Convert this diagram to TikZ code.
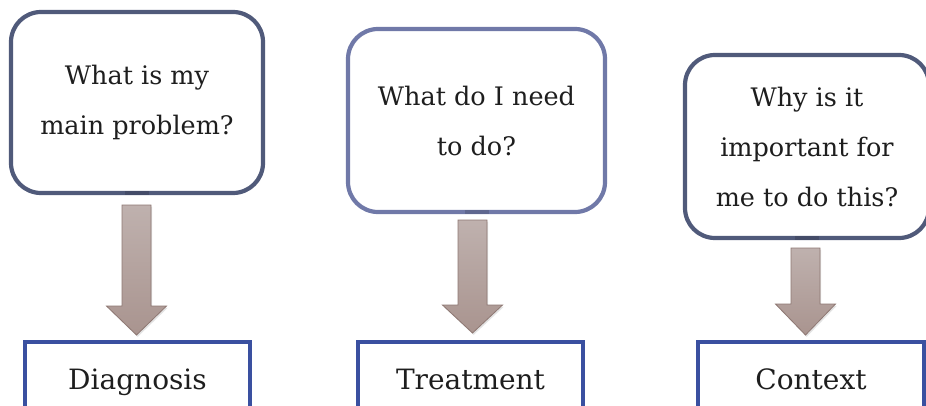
\documentclass[tikz,border=0pt]{standalone}
\usepackage{fontspec}
\setmainfont{DejaVu Serif}
\usetikzlibrary{shadows,calc}
\definecolor{qframe}{HTML}{505A7A}
\definecolor{qframelight}{HTML}{7079A8}
\definecolor{tframe}{HTML}{3A50A0}
\definecolor{arrowtop}{HTML}{BFB1AE}
\definecolor{arrowbot}{HTML}{A9948F}
\definecolor{arrowedge}{HTML}{8E7873}
\definecolor{ink}{HTML}{1E1E1E}
\tikzset{
  question/.style={draw=qframe, line width=4.2pt, rounded corners=30pt, fill=white,
    align=center, text=ink, font=\fontsize{25.5}{50}\selectfont, inner sep=0pt, outer sep=0pt},
  topic/.style={draw=tframe, line width=3.2pt, fill=white, minimum width=225pt,
    minimum height=76pt, text=ink, font=\fontsize{28}{30}\selectfont, inner sep=0pt,
    text height=22pt, text depth=4pt},
  blockarrow/.style={top color=arrowtop, bottom color=arrowbot, draw=arrowedge,
    line width=0.8pt, line join=miter,
    drop shadow={opacity=0.22, shadow xshift=1.2pt, shadow yshift=-1.8pt}},
}
% down-pointing block arrow: #1 centre x, #2 shaft top, #3 head base, #4 tip (y up)
\newcommand\fatdownarrow[4]{%
  \path[blockarrow] (#1-14.5,#2) -- (#1+14.5,#2) -- (#1+14.5,#3) -- (#1+30,#3)
    -- (#1,#4) -- (#1-30,#3) -- (#1-14.5,#3) -- cycle;}
\begin{document}
\begin{tikzpicture}[x=1pt,y=1pt]
\useasboundingbox (0,0) rectangle (926,405);
\clip (0,0) rectangle (926,405);
\fill[white] (0,0) rectangle (926,405);

% question boxes
\node[question, minimum width=252pt, minimum height=181pt] (q1) at (137,302.5)
  {What is my\\main problem?};
\node[question, draw=qframelight, minimum width=257pt, minimum height=183pt] (q2) at (476.5,284.5)
  {What do I need\\to do?};
\node[question, minimum width=244pt, minimum height=183pt] (q3) at (807,258.5)
  {Why is it\\important for\\me to do this?};

% small darker tabs on the lower edges
\foreach \q/\c in {q1/qframe, q2/qframelight, q3/qframe}
  \draw[\c!85!black, line width=4.2pt] ($(\q.south)+(-12,0)$) -- ($(\q.south)+(12,0)$);

% topic boxes
\node[topic] (t1) at (137.5,25) {Diagnosis};
\node[topic] (t2) at (470.5,25) {Treatment};
\node[topic, minimum width=226pt] (t3) at (811,25) {Context};

% block arrows from each question to its topic
\fatdownarrow{136.5}{200}{99}{70}
\fatdownarrow{472.5}{185}{100}{72}
\fatdownarrow{805.5}{157}{101}{70}
\end{tikzpicture}
\end{document}
